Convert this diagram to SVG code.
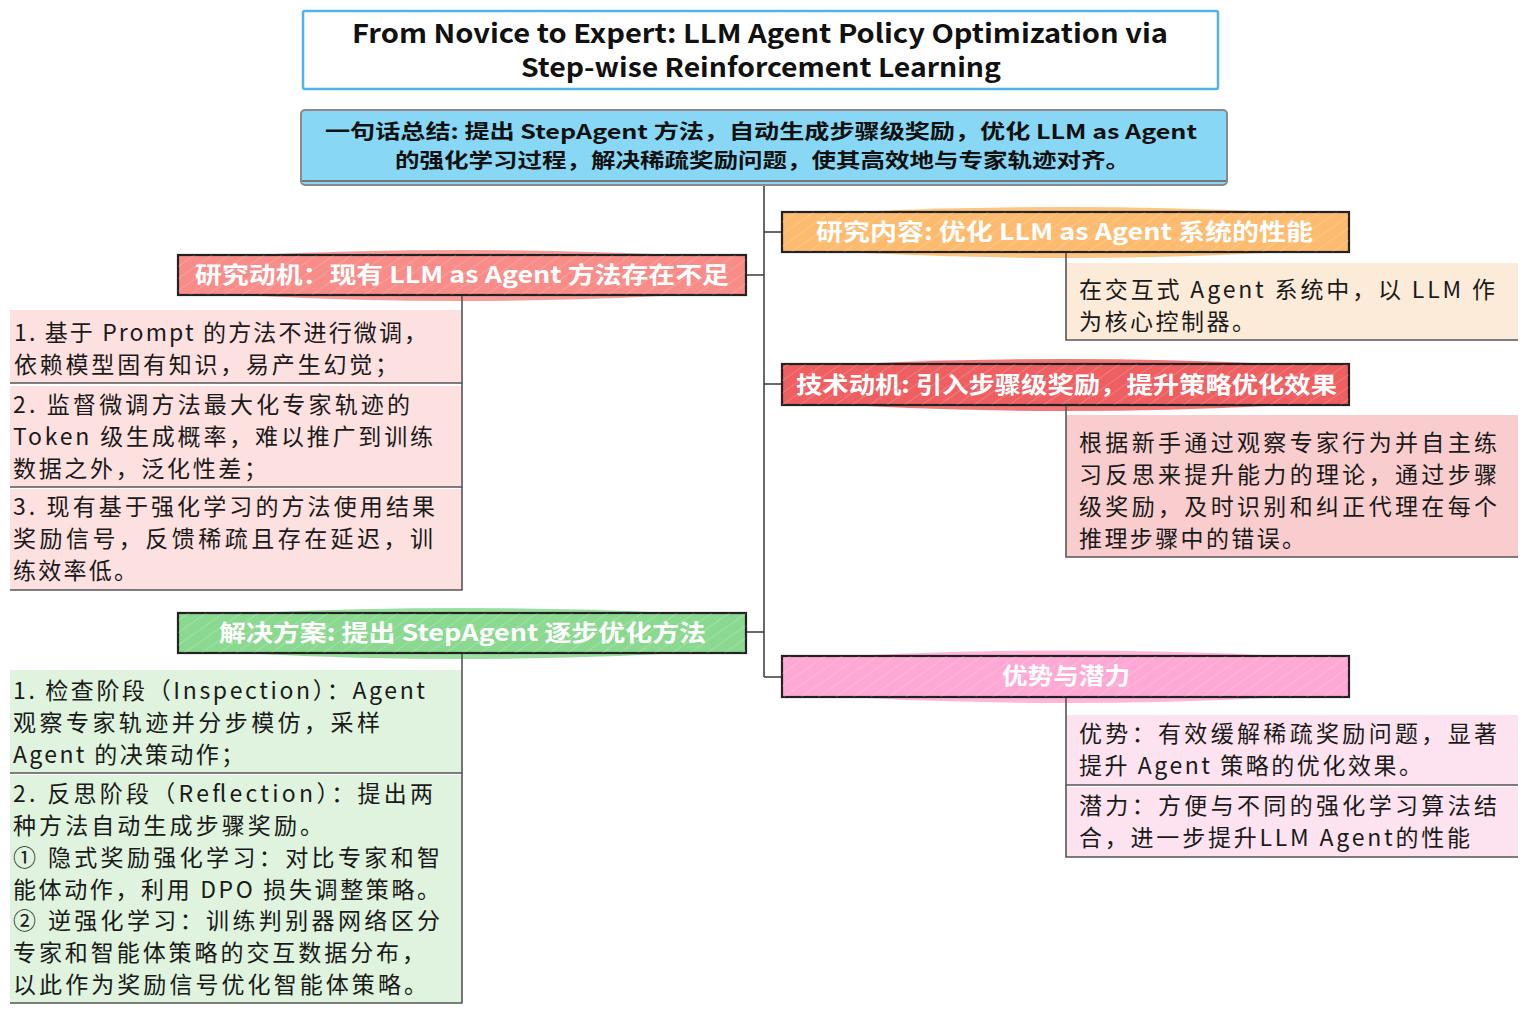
<svg xmlns="http://www.w3.org/2000/svg" width="1529" height="1011" viewBox="0 0 1529 1011">
<defs>
<pattern id="hatch" patternUnits="userSpaceOnUse" width="10" height="10" patternTransform="rotate(55)">
<line x1="0" y1="0" x2="0" y2="10" stroke="#ffffff" stroke-width="1" stroke-opacity="0.35"/>
</pattern>
<style>
.t{font-family:"Noto Sans CJK SC","Noto Sans",sans-serif;fill:#1a1a1a;font-size:23px;}
.h{font-family:"Noto Sans CJK SC","Noto Sans",sans-serif;fill:#ffffff;font-size:23px;font-weight:bold;}
.tt{font-family:"Noto Sans CJK SC","Noto Sans",sans-serif;fill:#111;font-size:26px;font-weight:bold;}
.s{font-family:"Noto Sans CJK SC","Noto Sans",sans-serif;fill:#111;font-size:20px;font-weight:bold;}
.hb{stroke:#222;stroke-width:2.2;}
.bd{stroke:#555;stroke-width:1.6;fill:none;}
.conn{stroke:#444;stroke-width:1.6;fill:none;}
</style>
</defs>
<rect width="1529" height="1011" fill="#ffffff"/>

<g id="connectors">
<line class="conn" x1="764" y1="185" x2="764" y2="677"/>
<line class="conn" x1="746" y1="275" x2="764" y2="275"/>
<line class="conn" x1="764" y1="232" x2="782" y2="232"/>
<line class="conn" x1="764" y1="384" x2="782" y2="384"/>
<line class="conn" x1="746" y1="632" x2="764" y2="632"/>
<line class="conn" x1="764" y1="677" x2="782" y2="677"/>
</g>

<g id="title">
<rect x="303" y="11" width="915" height="78" rx="2" fill="#ffffff" stroke="#4fb4ee" stroke-width="2.5"/>
<text class="tt" x="352" y="43" textLength="816" lengthAdjust="spacingAndGlyphs">From Novice to Expert: LLM Agent Policy Optimization via</text>
<text class="tt" x="521" y="77" textLength="480" lengthAdjust="spacingAndGlyphs">Step-wise Reinforcement Learning</text>
</g>

<g id="summary">
<rect x="301" y="110" width="926" height="75" rx="4" fill="#88d8f5" stroke="#8a8a8a" stroke-width="2"/>
<line x1="302" y1="181" x2="1226" y2="181" stroke="#777" stroke-width="2"/>
<text class="s" x="325" y="139" textLength="872" lengthAdjust="spacingAndGlyphs">一句话总结: 提出 StepAgent 方法，自动生成步骤级奖励，优化 LLM as Agent</text>
<text class="s" x="395" y="168" textLength="735" lengthAdjust="spacingAndGlyphs">的强化学习过程，解决稀疏奖励问题，使其高效地与专家轨迹对齐。</text>
</g>

<g id="h-content">
<path d="M782,216 Q1065,198 1349,216 L1349,248 Q1065,268 782,248 Z" fill="#fdbb6f" opacity="0.85"/>
<rect class="hb" x="782" y="212" width="567" height="40" fill="#fdbb6f"/>
<rect x="782" y="212" width="567" height="40" fill="url(#hatch)"/>
<text class="h" x="816" y="240" textLength="497" lengthAdjust="spacingAndGlyphs">研究内容: 优化 LLM as Agent 系统的性能</text>
</g>
<g id="b-content">
<rect x="1066" y="263" width="452" height="77" fill="#fdebd9"/>
<polyline class="bd" points="1066,253 1066,340 1518,340"/>
<text class="t" x="1079" y="298" textLength="416" lengthAdjust="spacing">在交互式 Agent 系统中，以 LLM 作</text>
<text class="t" x="1079" y="330" textLength="176" lengthAdjust="spacing">为核心控制器。</text>
</g>

<g id="h-motivation">
<path d="M178,259 Q462,241 746,259 L746,291 Q462,311 178,291 Z" fill="#f88c89" opacity="0.85"/>
<rect class="hb" x="178" y="255" width="568" height="40" fill="#f88c89"/>
<rect x="178" y="255" width="568" height="40" fill="url(#hatch)"/>
<text class="h" x="195" y="283" textLength="534" lengthAdjust="spacingAndGlyphs">研究动机：现有 LLM as Agent 方法存在不足</text>
</g>
<g id="b-motivation-1">
<rect x="10" y="310" width="452" height="73" fill="#fde0e0"/>
<polyline class="bd" points="462,296 462,383 10,383"/>
<text class="t" x="14" y="341" textLength="413" lengthAdjust="spacing">1. 基于 Prompt 的方法不进行微调，</text>
<text class="t" x="14" y="373" textLength="384" lengthAdjust="spacing">依赖模型固有知识，易产生幻觉；</text>
</g>
<g id="b-motivation-2">
<rect x="10" y="386" width="452" height="101" fill="#fde0e0"/>
<polyline class="bd" points="462,383 462,487 10,487"/>
<text class="t" x="13" y="413" textLength="397" lengthAdjust="spacing">2. 监督微调方法最大化专家轨迹的</text>
<text class="t" x="13" y="445" textLength="420" lengthAdjust="spacing">Token 级生成概率，难以推广到训练</text>
<text class="t" x="13" y="477" textLength="254" lengthAdjust="spacing">数据之外，泛化性差；</text>
</g>
<g id="b-motivation-3">
<rect x="10" y="489" width="452" height="101" fill="#fde0e0"/>
<polyline class="bd" points="462,487 462,590 10,590"/>
<text class="t" x="13" y="515" textLength="422" lengthAdjust="spacing">3. 现有基于强化学习的方法使用结果</text>
<text class="t" x="13" y="547" textLength="420" lengthAdjust="spacing">奖励信号，反馈稀疏且存在延迟，训</text>
<text class="t" x="13" y="579" textLength="124" lengthAdjust="spacing">练效率低。</text>
</g>

<g id="h-tech">
<path d="M782,368 Q1065,350 1349,368 L1349,401 Q1065,421 782,401 Z" fill="#ee5f62" opacity="0.85"/>
<rect class="hb" x="782" y="364" width="567" height="41" fill="#ee5f62"/>
<rect x="782" y="364" width="567" height="41" fill="url(#hatch)"/>
<text class="h" x="796" y="393" textLength="541" lengthAdjust="spacingAndGlyphs">技术动机: 引入步骤级奖励，提升策略优化效果</text>
</g>
<g id="b-tech">
<rect x="1066" y="415" width="452" height="142" fill="#f9cdce"/>
<polyline class="bd" points="1066,406 1066,557 1518,557"/>
<text class="t" x="1079" y="451" textLength="418" lengthAdjust="spacing">根据新手通过观察专家行为并自主练</text>
<text class="t" x="1079" y="483" textLength="418" lengthAdjust="spacing">习反思来提升能力的理论，通过步骤</text>
<text class="t" x="1079" y="515" textLength="418" lengthAdjust="spacing">级奖励，及时识别和纠正代理在每个</text>
<text class="t" x="1079" y="547" textLength="226" lengthAdjust="spacing">推理步骤中的错误。</text>
</g>

<g id="h-solution">
<path d="M178,617 Q462,599 746,617 L746,649 Q462,669 178,649 Z" fill="#8bd991" opacity="0.85"/>
<rect class="hb" x="178" y="613" width="568" height="40" fill="#8bd991"/>
<rect x="178" y="613" width="568" height="40" fill="url(#hatch)"/>
<text class="h" x="219" y="641" textLength="487" lengthAdjust="spacingAndGlyphs">解决方案: 提出 StepAgent 逐步优化方法</text>
</g>
<g id="b-solution-1">
<rect x="10" y="670" width="452" height="103" fill="#dff3de"/>
<polyline class="bd" points="462,654 462,773 10,773"/>
<text class="t" x="13" y="699" textLength="412" lengthAdjust="spacing">1. 检查阶段（Inspection）：Agent</text>
<text class="t" x="13" y="731" textLength="367" lengthAdjust="spacing">观察专家轨迹并分步模仿，采样</text>
<text class="t" x="13" y="763" textLength="231" lengthAdjust="spacing">Agent 的决策动作；</text>
</g>
<g id="b-solution-2">
<rect x="10" y="775" width="452" height="228" fill="#dff3de"/>
<polyline class="bd" points="462,773 462,1003 10,1003"/>
<text class="t" x="13" y="802" textLength="420" lengthAdjust="spacing">2. 反思阶段（Reflection）：提出两</text>
<text class="t" x="13" y="834" textLength="310" lengthAdjust="spacing">种方法自动生成步骤奖励。</text>
<text class="t" x="13" y="866" textLength="427" lengthAdjust="spacing">① 隐式奖励强化学习：对比专家和智</text>
<text class="t" x="13" y="898" textLength="427" lengthAdjust="spacing">能体动作，利用 DPO 损失调整策略。</text>
<text class="t" x="13" y="929" textLength="427" lengthAdjust="spacing">② 逆强化学习：训练判别器网络区分</text>
<text class="t" x="13" y="961" textLength="412" lengthAdjust="spacing">专家和智能体策略的交互数据分布，</text>
<text class="t" x="13" y="993" textLength="414" lengthAdjust="spacing">以此作为奖励信号优化智能体策略。</text>
</g>

<g id="h-advantage">
<path d="M782,660 Q1065,641 1349,660 L1349,693 Q1065,713 782,693 Z" fill="#fea9d5" opacity="0.85"/>
<rect class="hb" x="782" y="656" width="567" height="41" fill="#fea9d5"/>
<rect x="782" y="656" width="567" height="41" fill="url(#hatch)"/>
<text class="h" x="1002" y="684" textLength="128" lengthAdjust="spacingAndGlyphs">优势与潜力</text>
</g>
<g id="b-advantage-1">
<rect x="1066" y="715" width="452" height="70" fill="#fde3ef"/>
<polyline class="bd" points="1066,698 1066,785 1518,785"/>
<text class="t" x="1079" y="742" textLength="418" lengthAdjust="spacing">优势：有效缓解稀疏奖励问题，显著</text>
<text class="t" x="1079" y="774" textLength="343" lengthAdjust="spacing">提升 Agent 策略的优化效果。</text>
</g>
<g id="b-advantage-2">
<rect x="1066" y="787" width="452" height="70" fill="#fde3ef"/>
<polyline class="bd" points="1066,785 1066,857 1518,857"/>
<text class="t" x="1079" y="814" textLength="418" lengthAdjust="spacing">潜力：方便与不同的强化学习算法结</text>
<text class="t" x="1079" y="846" textLength="391" lengthAdjust="spacing">合，进一步提升LLM Agent的性能</text>
</g>
</svg>
